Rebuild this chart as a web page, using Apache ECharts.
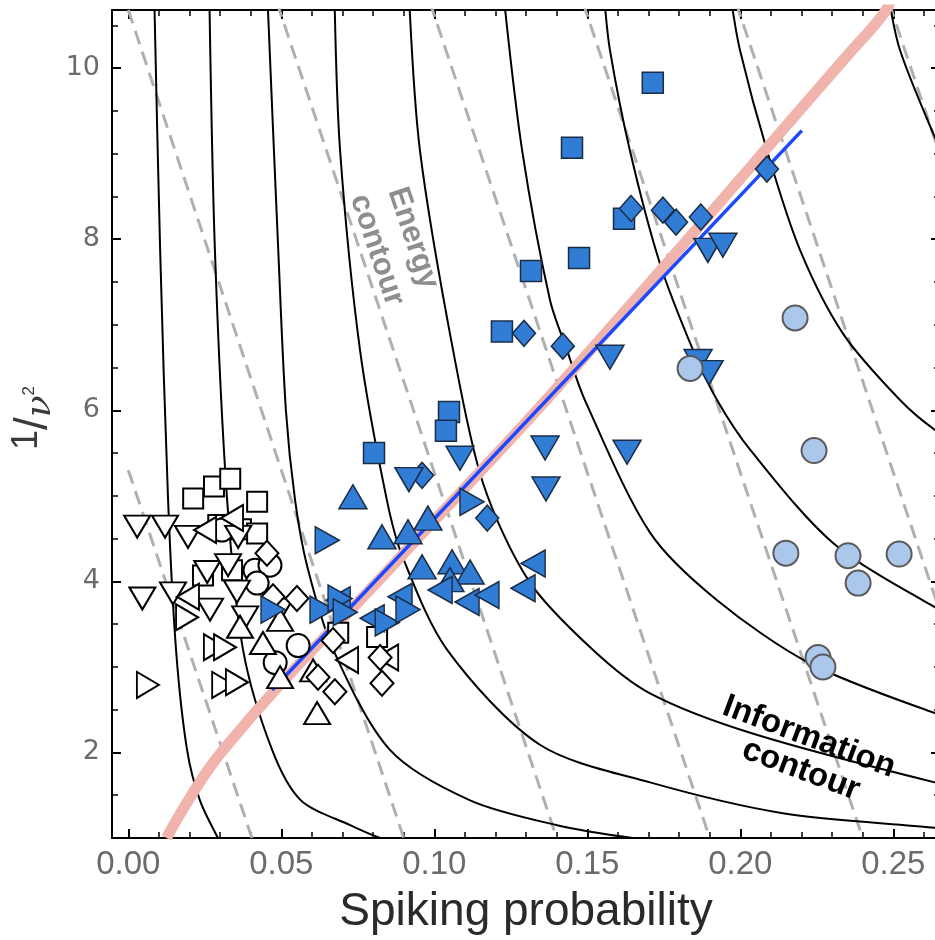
<!DOCTYPE html>
<html><head><meta charset="utf-8">
<script src="https://cdn.jsdelivr.net/npm/echarts@6/dist/echarts.min.js"></script>
<style>html,body{margin:0;padding:0;background:#fff}#c{width:935px;height:940px}</style>
</head><body><div id="c"></div>
<script>
// ---- axis ranges ----
const X_MIN = -0.00533, X_MAX = 0.26526;
const Y_MIN = 1.0, Y_MAX = 10.68;

// ---- blue filled markers ----
const blueSquare = [[0.1714,9.83],[0.1450,9.07],[0.1620,8.24],[0.1473,7.78],[0.1316,7.63],[0.1221,6.92],[0.1048,5.98],[0.1038,5.76],[0.0803,5.50]];
const blueDiamond = [[0.1643,8.36],[0.1747,8.34],[0.1790,8.20],[0.1871,8.26],[0.2087,8.82],[0.1420,6.75],[0.1293,6.90],[0.0960,5.24],[0.1173,4.74]];
const blueDown = [[0.1894,7.87],[0.1943,7.93],[0.1574,6.62],[0.1862,6.57],[0.1898,6.44],[0.1084,5.44],[0.1362,5.56],[0.1365,5.08],[0.1630,5.51],[0.0917,5.19]];
const blueUp = [[0.0734,4.99],[0.0829,4.52],[0.0914,4.58],[0.0979,4.74],[0.0960,4.17],[0.1058,4.23],[0.1117,4.11],[0.1051,4.02]];
const blueRight = [[0.0650,4.48],[0.1123,4.93],[0.0473,3.67],[0.0633,3.67],[0.0692,3.80],[0.0709,3.64],[0.0846,3.52],[0.0914,3.67]];
const blueLeft = [[0.0686,3.78],[0.0797,3.57],[0.0888,3.82],[0.1323,4.21],[0.1290,3.92],[0.1019,3.90],[0.1107,3.76],[0.1172,3.84]];
// ---- light blue circles ----
const lightCircle = [[0.2179,7.08],[0.1836,6.49],[0.2241,5.53],[0.2149,4.33],[0.2352,4.30],[0.2519,4.32],[0.2385,3.98],[0.2254,3.11],[0.2270,3.00]];
// ---- open markers ----
const openSquare = [[0.0212,4.97],[0.0280,5.11],[0.0333,5.20],[0.0421,4.93],[0.0294,4.66],[0.0368,4.61],[0.0421,4.56],[0.0244,4.07],[0.0339,4.13],[0.0686,3.40],[0.0813,3.35]];
const openCircle = [[0.0306,4.60],[0.0414,4.13],[0.0463,4.19],[0.0421,3.98],[0.0555,3.25],[0.0480,3.05]];
const openDown = [[0.0029,4.64],[0.0120,4.64],[0.0195,4.52],[0.0359,4.52],[0.0258,4.11],[0.0326,4.19],[0.0146,3.86],[0.0355,3.88],[0.0267,3.67],[0.0046,3.80],[0.0382,3.58],[0.0496,3.67]];
const openUp = [[0.0365,3.47],[0.0440,3.28],[0.0496,3.55],[0.0496,2.88],[0.0604,2.96],[0.0617,2.46]];
const openLeft = [[0.0339,4.74],[0.0251,4.60],[0.0195,3.82],[0.0846,3.11],[0.0715,3.08]];
const openRight = [[0.0064,2.79],[0.0192,3.58],[0.0283,3.23],[0.0316,3.23],[0.0310,2.79],[0.0355,2.82]];
const openDiamond = [[0.0453,4.33],[0.0473,3.82],[0.0551,3.80],[0.0620,2.88],[0.0675,2.71],[0.0829,2.81],[0.0669,3.31],[0.0823,3.11]];

// ---- information contours ----
const info1 = [[0.0085,10.8],[0.0104,7.875],[0.0130,4.95],[0.0156,3.20],[0.0192,2.03],[0.0234,1.44],[0.0293,1.0],[0.0332,0.75]];
const info2 = [[0.0265,10.8],[0.0283,7.875],[0.0323,4.95],[0.0375,3.20],[0.0470,2.03],[0.0564,1.44],[0.0725,1.15],[0.0823,1.0],[0.0953,0.86]];
const info3 = [[0.0455,10.8],[0.0490,7.875],[0.0515,6.0],[0.0545,4.95],[0.0585,4.17],[0.0670,3.20],[0.0855,2.03],[0.1117,1.44],[0.1401,1.15],[0.1649,1.0],[0.1868,0.92]];
const info4 = [[0.0674,10.8],[0.0692,9.04],[0.0757,6.71],[0.0845,4.95],[0.0897,4.28],[0.1042,3.20],[0.1345,2.09],[0.1705,1.65],[0.2139,1.29],[0.2636,1.12],[0.2783,1.06]];
const info5 = [[0.0918,10.8],[0.0953,9.04],[0.1061,6.71],[0.1159,5.15],[0.1310,4.0],[0.1518,3.20],[0.1705,2.69],[0.2032,2.23],[0.2636,1.65],[0.2800,1.55]];
const info6 = [[0.1228,10.8],[0.1287,9.04],[0.1378,7.29],[0.1433,6.71],[0.1492,6.12],[0.1705,4.57],[0.1924,3.78],[0.2228,3.04],[0.2636,2.46],[0.2800,2.30]];
const info7 = [[0.1556,10.8],[0.1574,10.21],[0.1639,9.04],[0.1737,7.72],[0.1845,6.71],[0.1924,6.12],[0.2032,5.54],[0.2303,4.45],[0.2636,3.70],[0.2800,3.45]];
const info8 = [[0.1970,10.8],[0.1999,10.21],[0.2087,9.04],[0.2195,7.875],[0.2335,6.90],[0.2522,6.12],[0.2636,5.77],[0.2800,5.40]];
const info9 = [[0.2486,10.8],[0.2522,10.21],[0.2630,9.24],[0.2700,8.70]];

// ---- energy contours (straight dashed) ----
const energy1 = [[0.0,5.30],[0.0404,1.0]];
const energy2 = [[0.0,10.68],[0.0900,1.0]];
const energy3 = [[0.0464,11.0],[0.1400,1.0]];
const energy4 = [[0.0964,11.0],[0.1900,1.0]];
const energy5 = [[0.1464,11.0],[0.2400,1.0]];
const energy6 = [[0.1964,11.0],[0.2900,1.0]];
const energy7 = [[0.2464,11.0],[0.3400,1.0]];

// ---- fits ----
const pinkFit = [[0.0125,1.0],[0.0310,2.03],[0.0888,4.28],[0.1398,6.25],[0.2365,10.21],[0.2473,10.66],[0.2500,10.9]];
const blueFit = [[0.0470,2.73],[0.2201,9.27]];

const chart = echarts.init(document.getElementById('c'), null, {renderer:'canvas'});

const infoLines = [info1,info2,info3,info4,info5,info6,info7,info8,info9].map(d => ({
  type:'line', data:d, showSymbol:false, smooth:0.3, z:2, silent:true,
  lineStyle:{color:'#000', width:2}
}));
const energyLines = [energy1,energy2,energy3,energy4,energy5,energy6,energy7].map(d => ({
  type:'line', data:d, showSymbol:false, z:2, silent:true,
  lineStyle:{color:'#b0b0b0', width:3, type:[14,8]}
}));

function sc(data, symbol, size, rot, fill, stroke, bw) {
  return {type:'scatter', data, symbol, symbolSize:size, symbolRotate:rot, z:5,
    itemStyle:{color:fill, borderColor:stroke, borderWidth:bw, opacity:1}};
}
const BLUE = '#317cd5', BEDGE = '#1b2c45';
const markers = [
  sc(openSquare,'rect',20,0,'#fff','#000',2),
  sc(openCircle,'circle',23,0,'#fff','#000',2),
  sc(openDown,'triangle',[26,22],180,'#fff','#000',2),
  sc(openUp,'triangle',[26,22],0,'#fff','#000',2),
  sc(openLeft,'triangle',[26,22],90,'#fff','#000',2),
  sc(openRight,'triangle',[26,22],-90,'#fff','#000',2),
  sc(openDiamond,'diamond',[23,25],0,'#fff','#000',2),
  sc(blueSquare,'rect',21,0,BLUE,BEDGE,1.5),
  sc(blueDiamond,'diamond',[23,26],0,BLUE,BEDGE,1.5),
  sc(blueDown,'triangle',[28,24],180,BLUE,BEDGE,1.5),
  sc(blueUp,'triangle',[28,24],0,BLUE,BEDGE,1.5),
  sc(blueLeft,'triangle',[27,24],90,BLUE,BEDGE,1.5),
  sc(blueRight,'triangle',[27,24],-90,BLUE,BEDGE,1.5),
  sc(lightCircle,'circle',25,0,'#abc8ec','#5a5a5a',2)
];

const commonX = {
  type:'value', min:X_MIN, max:X_MAX, splitNumber:5,
  axisLine:{show:true, onZero:false, lineStyle:{color:'#000', width:2}},
  axisTick:{show:true, inside:true, length:9, lineStyle:{color:'#000', width:2}},
  minorTick:{show:true, splitNumber:5, length:6, lineStyle:{color:'#000', width:1.5}},
  splitLine:{show:false}, minorSplitLine:{show:false}
};
const commonY = {
  type:'value', min:Y_MIN, max:Y_MAX, splitNumber:5,
  axisLine:{show:true, onZero:false, lineStyle:{color:'#000', width:2}},
  axisTick:{show:true, inside:true, length:9, lineStyle:{color:'#000', width:2}},
  minorTick:{show:true, splitNumber:4, length:6, lineStyle:{color:'#000', width:1.5}},
  splitLine:{show:false}, minorSplitLine:{show:false}
};

chart.setOption({
  animation:false,
  backgroundColor:'#fff',
  grid:{left:112, right:-5, top:10, bottom:102, containLabel:false, outerBoundsMode:'none'},
  xAxis:[
    Object.assign({}, commonX, {position:'bottom',
      axisLabel:{show:true, showMinLabel:false, showMaxLabel:false, formatter:v=>v.toFixed(2),
        color:'#6b6b6b', fontSize:33, fontFamily:'Liberation Sans', margin:10},
      name:'Spiking probability', nameLocation:'middle', nameGap:51,
      nameTextStyle:{fontSize:46, color:'#2a2a2a', fontFamily:'Liberation Sans'}}),
    Object.assign({}, commonX, {position:'top', axisLabel:{show:false}})
  ],
  yAxis:[
    Object.assign({}, commonY, {position:'left',
      axisLabel:{show:true, showMinLabel:false, showMaxLabel:false, formatter:v=>String(Math.round(v)),
        color:'#6b6b6b', fontSize:27, fontFamily:'DejaVu Sans', margin:12}}),
    Object.assign({}, commonY, {position:'right', axisLabel:{show:false}})
  ],
  graphic:[
    {type:'text', x:34, y:418, rotation:Math.PI/2, z:20,
      style:{text:'{a|1}{b|/}{c|ν}{d|2}', align:'center', verticalAlign:'middle', fill:'#3a3a3a',
        rich:{
          a:{fontSize:36, fontFamily:'Liberation Sans', fill:'#3a3a3a', verticalAlign:'top', lineHeight:50},
          b:{fontSize:46, fontFamily:'Liberation Sans', fill:'#3a3a3a', lineHeight:50},
          c:{fontSize:36, fontFamily:'DejaVu Serif', fontStyle:'italic', fill:'#3a3a3a', verticalAlign:'bottom', lineHeight:50},
          d:{fontSize:17, fontFamily:'Liberation Sans', fill:'#3a3a3a', verticalAlign:'middle', lineHeight:50, padding:[0,0,10,0]}
        }}},
    {type:'text', x:413, y:238, rotation:-1.248, z:20,
      style:{text:'Energy', font:'bold 31px "Liberation Sans"', fill:'#8e8e8e', align:'center', verticalAlign:'middle'}},
    {type:'text', x:377, y:250, rotation:-1.248, z:20,
      style:{text:'contour', font:'bold 31px "Liberation Sans"', fill:'#8e8e8e', align:'center', verticalAlign:'middle'}},
    {type:'text', x:809, y:737, rotation:-0.358, z:20,
      style:{text:'Information', font:'bold 33px "Liberation Sans"', fill:'#000', align:'center', verticalAlign:'middle'}},
    {type:'text', x:801, y:770, rotation:-0.358, z:20,
      style:{text:'contour', font:'bold 33px "Liberation Sans"', fill:'#000', align:'center', verticalAlign:'middle'}}
  ],
  series:[
    ...energyLines,
    ...infoLines,
    {type:'line', data:pinkFit, showSymbol:false, smooth:0.4, z:3, silent:true,
      lineStyle:{color:'#f1b4ac', width:11, cap:'butt'}},
    {type:'line', data:blueFit, showSymbol:false, z:4, silent:true,
      lineStyle:{color:'#1c48ff', width:3.5}},
    ...markers
  ]
});
</script>
</body></html>
